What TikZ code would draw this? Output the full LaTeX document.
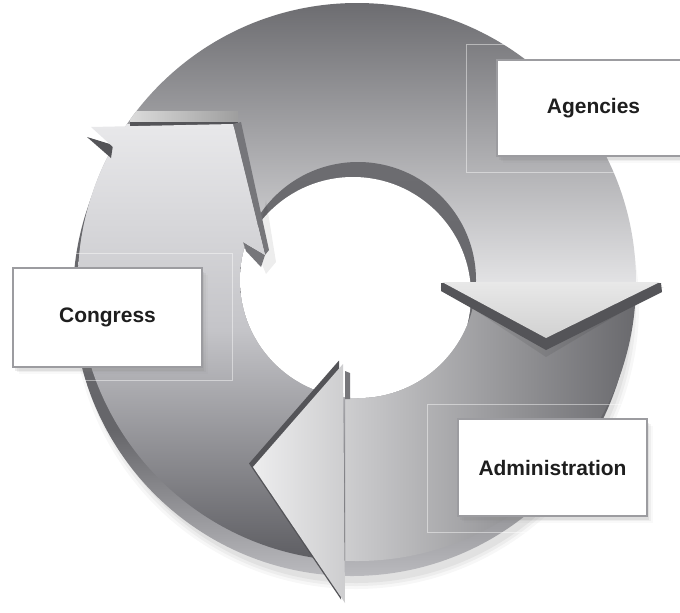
\documentclass[tikz,border=0pt]{standalone}
\usepackage{fontspec}
\setmainfont{Liberation Sans}
\usetikzlibrary{shadows}
\definecolor{cAtop}{HTML}{67676B}
\definecolor{cAbot}{HTML}{E2E2E4}
\definecolor{cBl}{HTML}{EEEEEF}
\definecolor{cBr}{HTML}{66666A}
\definecolor{cCa}{HTML}{E9E9EB}
\definecolor{cCb}{HTML}{C4C4C8}
\definecolor{cCc}{HTML}{55555A}
\definecolor{cWa}{HTML}{6C6C70}
\definecolor{cWb}{HTML}{66666A}
\definecolor{cWc}{HTML}{C8C8CC}
\definecolor{cDark}{HTML}{545458}
\definecolor{cSide}{HTML}{76767A}
\definecolor{boxgray}{HTML}{9C9CA0}
\definecolor{txt}{HTML}{1E1E1E}
\newcommand{\shadeA}{\shade[top color=cAtop, bottom color=cAbot] (-10,-10) rectangle (690,282);}
\newcommand{\shadeB}{\shade[left color=cBl, right color=cBr] (250,270) rectangle (645,620);}
\newcommand{\shadeC}{\shade[top color=cCa, bottom color=cCb] (-10,120) rectangle (690,330.5);
  \shade[top color=cCb, bottom color=cCc] (-10,330) rectangle (690,580);}
\tikzset{
  lbl/.style={draw=boxgray, line width=1.7pt, fill=white, inner sep=0pt,
    font=\bfseries\fontsize{17.9}{20}\selectfont, text=txt,
    drop shadow={shadow xshift=2pt, shadow yshift=-3pt, opacity=0.14},
    drop shadow={shadow xshift=3.5pt, shadow yshift=-4.5pt, opacity=0.09},
    drop shadow={shadow xshift=5pt, shadow yshift=-6pt, opacity=0.05}},
  faint/.style={draw=white, draw opacity=0.45, line width=0.6pt},
}
\begin{document}
\begin{tikzpicture}[x=0.03cm,y=-0.03cm]
\useasboundingbox (0,0) rectangle (680,612);
% soft shadow under the ring
\foreach \r/\o in {283/0.03,280/0.04,277/0.05}{\fill[black,opacity=\o] (356,306) circle (\r);}
% wall (lower layer)
\begin{scope}
  \clip (352,297) circle (279);
  \shade[top color=cWa, bottom color=cWb] (-10,-10) rectangle (690,430.5);
  \shade[top color=cWb, bottom color=cWc] (-10,430) rectangle (690,600);
\end{scope}
% segment A (top)
\begin{scope}
  \clip (357,282) circle (279);
  \clip (-10,-10) rectangle (690,282);
  \shadeA
\end{scope}
% segment B (right / bottom)
\begin{scope}
  \clip (357,282) circle (279);
  \clip (341,700) -- (341,390) -- (420,282) -- (700,282) -- (700,700) -- cycle;
  \shadeB
\end{scope}
% segment C (left)
\begin{scope}
  \clip (357,282) circle (279);
  \clip (-10,700) -- (345,700) -- (345,390) -- (300,282) -- (262,255) -- (233,124) -- (-10,124) -- cycle;
  \shadeC
\end{scope}
% hole with inner wall
\begin{scope}
  \clip (358,280) circle (118);
  \shade[top color=cWa, bottom color=cWb] (230,160) rectangle (480,400);
  \clip (353,295) circle (118);
  \fill[white] (230,160) rectangle (480,400);
\end{scope}
% bevel strip above the Congress arrow head
\begin{scope}
  \clip (357,282) circle (279);
  \shade[left color=black!14, right color=black!38] (130,111) rectangle (238,122);
  \fill[cDark] (130,122) rectangle (238,127);
\end{scope}
% Congress arrow head (upper left)
\fill[black,opacity=0.07] (266,200) -- (276,262) -- (266,274) -- (256,250) -- cycle;
\fill[cDark] (87,137) -- (113,145) -- (111,158) -- cycle;
\fill[cSide] (233,124) -- (241,122) -- (269,250) -- (265,255) -- cycle;
\fill[cSide] (243,242) -- (265,255) -- (261,267) -- (246,251) -- cycle;
\begin{scope}
  \clip (91,127) -- (233,124) -- (265,255) -- (243,242) -- (150,200) -- (113,147) -- cycle;
  \shadeC
\end{scope}
% Administration arrow head (bottom, pointing left)
\fill[cDark] (249,463.5) -- (339,360.5) -- (341,599.5) -- cycle;
\fill[cSide] (345,371) -- (350,373) -- (350,399) -- (345,399) -- cycle;
\begin{scope}
  \clip (253,467) -- (343,364) -- (345,603) -- cycle;
  \shadeB
\end{scope}
% Agencies arrow head (right, pointing down)
\fill[black,opacity=0.08] (440,287) -- (664,287) -- (546,357) -- cycle;
\fill[cDark] (441,283) -- (661,283) -- (662,292) -- (546,350) -- (441,291) -- cycle;
\shade[top color=black!9, bottom color=black!18] (442,282) -- (660,282) -- (546,338) -- cycle;
% faint frames
\draw[faint] (466,44) rectangle (700,172);
\draw[faint] (-10,253) rectangle (232,380);
\draw[faint] (427,404) rectangle (700,532);
% label boxes
\node[lbl, minimum width=5.79cm, minimum height=2.88cm] (agencies) at (593.5,108) {Agencies};
\node[lbl, minimum width=5.67cm, minimum height=2.97cm] (congress) at (107.5,317.5) {Congress};
\node[lbl, minimum width=5.67cm, minimum height=2.91cm] (admin) at (552.5,467.5) {Administration};
\end{tikzpicture}
\end{document}
